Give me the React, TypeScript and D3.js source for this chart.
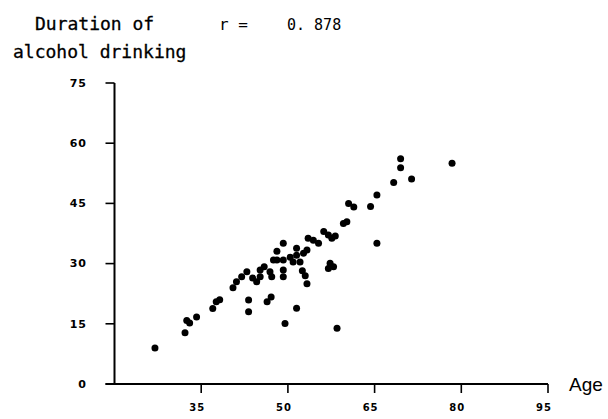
import React from "react";
import * as d3 from "d3";

const ages = [
  27.0, 32.2, 32.5, 33.0, 34.2, 37.0, 37.6, 38.2, 40.5, 41.1, 42.0, 42.9, 43.2, 43.2,
  44.6, 45.2, 45.2, 45.9, 46.9, 47.2, 46.4, 47.1, 48.1, 49.2, 50.4, 51.5, 52.7, 49.2,
  48.1, 51.5, 53.3, 49.2, 49.2, 50.9, 52.1, 52.5, 53.0, 53.3, 51.5, 49.5, 58.5, 53.5,
  54.4, 55.3, 56.2, 57.0, 57.6, 58.2, 59.6, 60.2, 60.5, 61.4, 64.3, 65.4, 65.4, 68.3,
  71.4, 69.5, 69.5, 78.4, 57.3, 57.9, 57.0, 47.5, 43.9,
];
const durations = [
  9.0, 12.8, 15.8, 15.2, 16.7, 18.8, 20.5, 21.0, 24.0, 25.5, 26.7, 28.0, 20.9, 18.0,
  25.5, 26.7, 28.4, 29.2, 28.0, 26.7, 20.5, 21.7, 30.9, 30.9, 31.6, 32.1, 32.6, 35.1,
  33.1, 33.8, 33.4, 28.4, 26.7, 30.4, 30.4, 28.2, 27.0, 25.0, 18.9, 15.1, 13.9, 36.3,
  35.8, 35.1, 38.0, 37.1, 36.3, 36.9, 40.0, 40.4, 45.0, 44.1, 44.2, 47.1, 35.1, 50.2,
  51.1, 56.1, 53.9, 55.0, 30.1, 29.2, 28.8, 30.9, 26.4,
];
const xTicks = [35, 50, 65, 80, 95];
const yTicks = [0, 15, 30, 45, 60, 75];
const yTitle = ["Duration of", "alcohol drinking"];
const rLabel = "r =";
const rValue = "0. 878";
const xTitle = "Age";

export default function App() {
  const x = d3.scaleLinear().domain([20, 95]).range([114.5, 548]);
  const y = d3.scaleLinear().domain([0, 75]).range([384, 83]);
  const mono = "'DejaVu Sans Mono', monospace";
  const tickFont = "'DejaVu Sans', sans-serif";
  return (
    <svg
      width={608}
      height={419}
      style={{ position: "absolute", left: 0, top: 0, background: "#fff" }}
    >
      <text x={35} y={30} fontFamily={mono} fontSize={18} fill="#000" stroke="#000" strokeWidth={0.3}>
        {yTitle[0]}
      </text>
      <text x={13} y={58} fontFamily={mono} fontSize={18} fill="#000" stroke="#000" strokeWidth={0.3}>
        {yTitle[1]}
      </text>
      <text x={219} y={30} fontFamily={mono} fontSize={16} fill="#000">
        {rLabel}
      </text>
      <text x={287} y={30} fontFamily={mono} fontSize={15} fill="#000">
        {rValue}
      </text>
      {/* y axis */}
      <line x1={x(20)} x2={x(20)} y1={y(75)} y2={y(0)} stroke="#000" strokeWidth={2} />
      {yTicks.map((t) => (
        <g key={"y" + t}>
          <line x1={x(20) - 9} x2={x(20)} y1={y(t)} y2={y(t)} stroke="#000" strokeWidth={1.6} />
          <text
            x={87}
            y={y(t)}
            dy="0.35em"
            textAnchor="end"
            fontFamily={tickFont}
            fontWeight="bold"
            fontSize={11}
            letterSpacing={1}
            fill="#000"
          >
            {t}
          </text>
        </g>
      ))}
      {/* x axis */}
      <line x1={x(20) - 9} x2={x(95)} y1={y(0)} y2={y(0)} stroke="#000" strokeWidth={2} />
      {xTicks.map((t) => (
        <g key={"x" + t}>
          <line x1={x(t)} x2={x(t)} y1={y(0)} y2={y(0) + 9} stroke="#000" strokeWidth={1.6} />
          <text
            x={x(t)}
            dx={-4}
            y={407}
            dy="0.35em"
            textAnchor="middle"
            fontFamily={tickFont}
            fontWeight="bold"
            fontSize={10}
            letterSpacing={1}
            fill="#000"
          >
            {t}
          </text>
        </g>
      ))}
      <text x={569} y={391} fontFamily="'Liberation Sans', Arial, sans-serif" fontSize={19} fill="#000">
        {xTitle}
      </text>
      {ages.map((a, i) => (
        <circle key={i} cx={x(a)} cy={y(durations[i])} r={3.5} fill="#000" />
      ))}
    </svg>
  );
}
